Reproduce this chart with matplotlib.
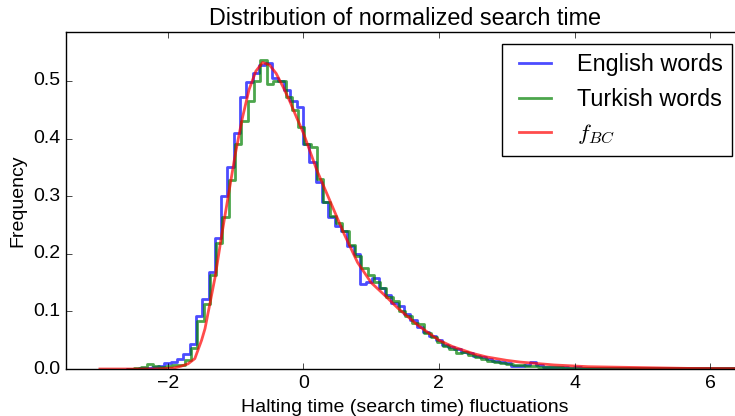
import matplotlib
matplotlib.use("Agg")
import matplotlib.pyplot as plt
import numpy as np

plt.style.use('classic')
plt.rcParams['font.family'] = ['Liberation Sans', 'DejaVu Sans']
plt.rcParams['font.size'] = 14
plt.rcParams['mathtext.fontset'] = 'cm'

# histogram bins (left edge of first bin, bin width)
english_start = -2.607
turkish_start = -2.587
bin_width = 0.093

english_freq = [
    0.0, 0.0, 0.001, 0.001, 0.003, 0.006, 0.011, 0.013, 0.017, 0.026,
    0.044, 0.092, 0.122, 0.168, 0.228, 0.300, 0.350, 0.410, 0.472, 0.499,
    0.514, 0.528, 0.531, 0.505, 0.500, 0.484, 0.466, 0.455, 0.390, 0.360,
    0.325, 0.290, 0.263, 0.249, 0.240, 0.213, 0.200, 0.147, 0.151, 0.158,
    0.140, 0.128, 0.115, 0.110, 0.095, 0.085, 0.073, 0.065, 0.057, 0.050,
    0.042, 0.038, 0.035, 0.030, 0.027, 0.022, 0.020, 0.018, 0.014, 0.012,
    0.010, 0.005, 0.006, 0.007, 0.013, 0.007, 0.004, 0.004, 0.003, 0.003,
    0.002, 0.004, 0.002, 0.002, 0.001, 0.002, 0.001, 0.001, 0.002, 0.001,
    0.001, 0.001, 0.002, 0.001, 0.001, 0.001, 0.001, 0.002, 0.001, 0.001,
    0.001, 0.002, 0.001, 0.001, 0.001, 0.001, 0.001]

turkish_freq = [
    0.0, 0.001, 0.003, 0.008, 0.006, 0.004, 0.005, 0.007, 0.007, 0.016,
    0.037, 0.084, 0.113, 0.163, 0.219, 0.263, 0.328, 0.390, 0.430, 0.465,
    0.500, 0.536, 0.494, 0.500, 0.500, 0.472, 0.449, 0.420, 0.390, 0.385,
    0.330, 0.290, 0.266, 0.254, 0.240, 0.216, 0.196, 0.175, 0.163, 0.151,
    0.140, 0.125, 0.118, 0.100, 0.092, 0.080, 0.078, 0.062, 0.055, 0.047,
    0.040, 0.035, 0.028, 0.030, 0.025, 0.020, 0.018, 0.014, 0.013, 0.010,
    0.009, 0.007, 0.007, 0.005, 0.005, 0.004, 0.004, 0.003, 0.003, 0.002,
    0.002, 0.002, 0.001, 0.002, 0.001, 0.001, 0.001, 0.001, 0.001, 0.001,
    0.001, 0.001, 0.001, 0.001, 0.001, 0.001, 0.001, 0.001, 0.001, 0.001,
    0.001, 0.001, 0.001, 0.001, 0.001, 0.001, 0.001]

# f_BC curve
fbc_x = [-3.0, -2.2, -2.0, -1.9, -1.8, -1.7, -1.6, -1.5, -1.45, -1.4, -1.3,
         -1.2, -1.1, -1.0, -0.9, -0.8, -0.7, -0.6, -0.5, -0.4, -0.3, -0.2,
         -0.1, 0.0, 0.2, 0.4, 0.6, 0.8, 1.0, 1.2, 1.4, 1.7, 2.0, 2.2, 2.5,
         2.7, 3.0, 3.2, 3.7, 4.2, 4.7, 5.2, 5.7, 6.5]
fbc_y = [0.0, 0.0, 0.001, 0.002, 0.005, 0.009, 0.018, 0.05, 0.07, 0.10, 0.16,
         0.235, 0.305, 0.375, 0.435, 0.485, 0.517, 0.532, 0.528, 0.513, 0.49,
         0.465, 0.437, 0.41, 0.345, 0.29, 0.235, 0.185, 0.15, 0.128, 0.105,
         0.075, 0.05, 0.039, 0.027, 0.021, 0.015, 0.012, 0.007, 0.004, 0.003,
         0.002, 0.001, 0.0005]


def step_xy(start, freq):
    edges = start + bin_width * np.arange(len(freq) + 1)
    return edges, list(freq) + [freq[-1]]


fig = plt.figure(figsize=(7.35, 4.16), dpi=100, facecolor='white')
ax = fig.add_axes([66 / 735, 47 / 416, 678 / 735, 337 / 416])

x, y = step_xy(english_start, english_freq)
ax.plot(x, y, drawstyle='steps-post', color='b', lw=2, alpha=0.7, label='English words')
x, y = step_xy(turkish_start, turkish_freq)
ax.plot(x, y, drawstyle='steps-post', color='g', lw=2, alpha=0.7, label='Turkish words')
ax.plot(fbc_x, fbc_y, color='r', lw=2, alpha=0.7, label='$f_{BC}$')

ax.set_xlim(-3.5, 6.5)
ax.set_ylim(0, 0.585)
ax.set_xticks([-2, 0, 2, 4, 6])
ax.set_yticks([0.0, 0.1, 0.2, 0.3, 0.4, 0.5])
ax.set_title('Distribution of normalized search time')
ax.set_xlabel('Halting time (search time) fluctuations')
ax.set_ylabel('Frequency')
ax.legend(loc='upper right')

fig.savefig('out.png', dpi=100, facecolor='white')
